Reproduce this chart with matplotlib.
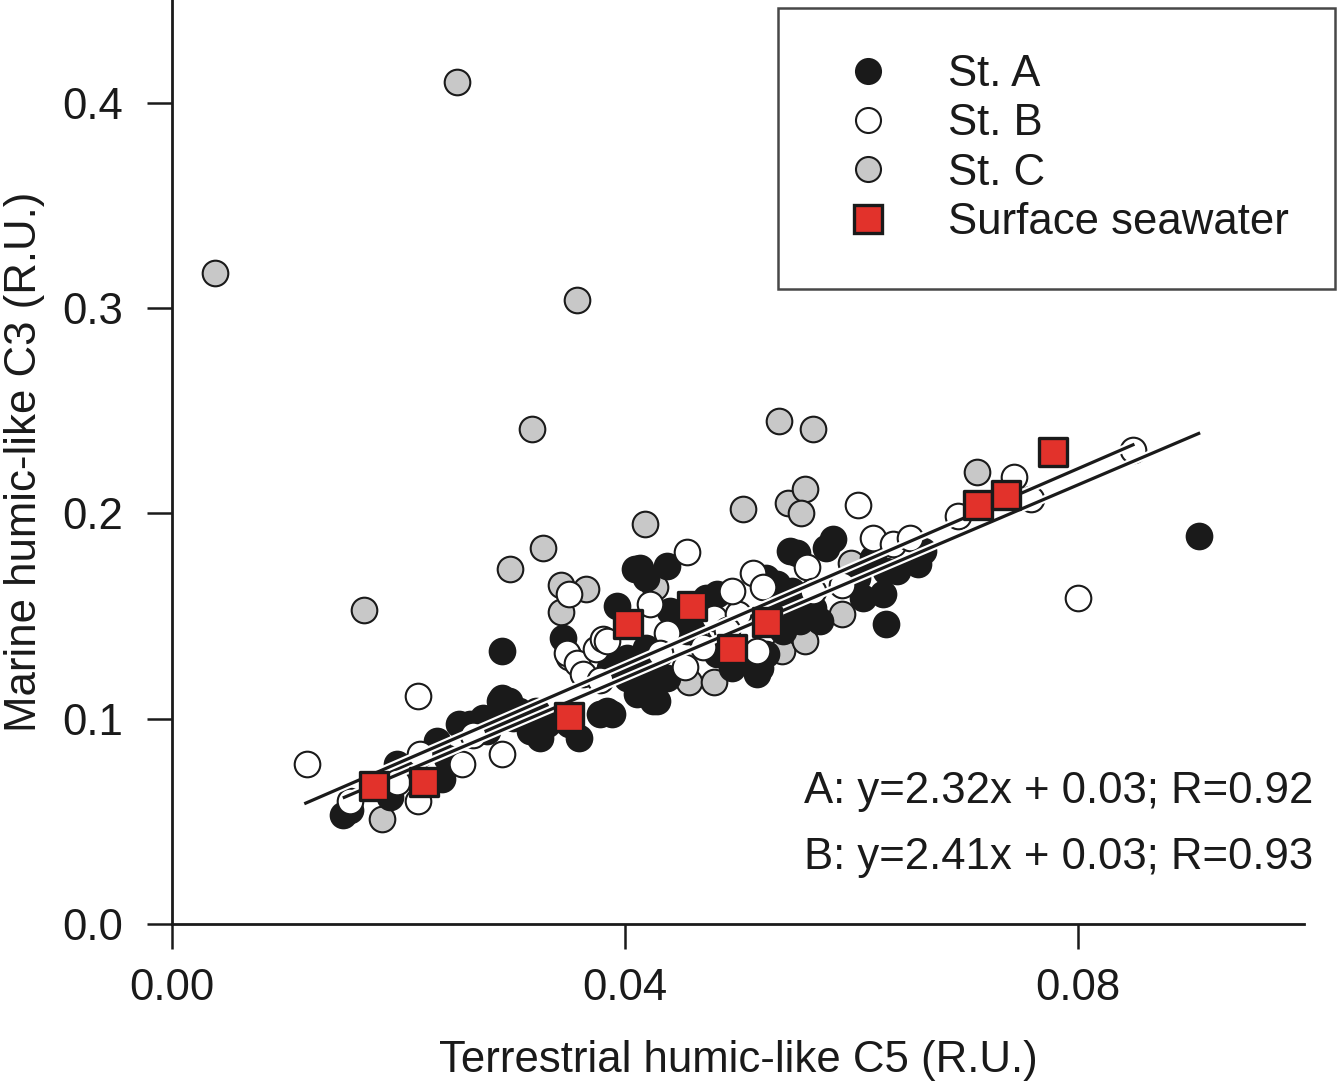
import matplotlib
matplotlib.use("Agg")
import matplotlib.pyplot as plt
import matplotlib.patheffects as pe
from matplotlib.lines import Line2D
import numpy as np

# St. A (black)
st_a_x = [0.0151, 0.0157, 0.0193, 0.0199, 0.0225, 0.0239, 0.0243, 0.0234, 0.0254, 0.0263,
          0.0275, 0.0278, 0.0283, 0.0290, 0.0292, 0.0292, 0.0298, 0.0301, 0.0307, 0.0316,
          0.0322, 0.0325, 0.0331, 0.0351, 0.0360, 0.0345, 0.0378, 0.0384, 0.0389, 0.0393,
          0.0409, 0.0437, 0.0396, 0.0402, 0.0402, 0.0387, 0.0407, 0.0411, 0.0425, 0.0425,
          0.0422, 0.0437, 0.0419, 0.0428, 0.0413, 0.0419, 0.0440, 0.0455, 0.0466, 0.0472,
          0.0481, 0.0481, 0.0495, 0.0513, 0.0517, 0.0519, 0.0525, 0.0540, 0.0552, 0.0531,
          0.0537, 0.0525, 0.0522, 0.0534, 0.0546, 0.0548, 0.0552, 0.0555, 0.0555, 0.0566,
          0.0572, 0.0578, 0.0584, 0.0605, 0.0610, 0.0619, 0.0628, 0.0631, 0.0631, 0.0640,
          0.0659, 0.0663, 0.0907]
st_a_y = [0.0533, 0.0557, 0.0621, 0.0778, 0.0680, 0.0704, 0.0807, 0.0890, 0.0973, 0.0973,
          0.1002, 0.0939, 0.1002, 0.1086, 0.1100, 0.1330, 0.1086, 0.1002, 0.1037, 0.0939,
          0.1037, 0.0905, 0.0973, 0.0973, 0.0905, 0.1394, 0.1022, 0.1037, 0.1022, 0.1550,
          0.1731, 0.1746, 0.1281, 0.1198, 0.1296, 0.1247, 0.1183, 0.1120, 0.1086, 0.1120,
          0.1232, 0.1198, 0.1345, 0.1086, 0.1736, 0.1687, 0.1526, 0.1428, 0.1477, 0.1589,
          0.1609, 0.1315, 0.1247, 0.1281, 0.1218, 0.1247, 0.1315, 0.1428, 0.1511, 0.1462,
          0.1575, 0.1687, 0.1672, 0.1658, 0.1819, 0.1623, 0.1809, 0.1511, 0.1477, 0.1540,
          0.1477, 0.1834, 0.1878, 0.1687, 0.1589, 0.1785, 0.1609, 0.1721, 0.1462, 0.1721,
          0.1756, 0.1819, 0.1892]

# St. B (white)
st_b_x = [0.0119, 0.0217, 0.0157, 0.0199, 0.0217, 0.0219, 0.0256, 0.0266, 0.0292, 0.0351,
          0.0349, 0.0358, 0.0363, 0.0378, 0.0375, 0.0381, 0.0351, 0.0384, 0.0422, 0.0437,
          0.0431, 0.0453, 0.0469, 0.0455, 0.0484, 0.0479, 0.0500, 0.0495, 0.0513, 0.0522,
          0.0490, 0.0517, 0.0561, 0.0566, 0.0592, 0.0606, 0.0619, 0.0637, 0.0652, 0.0694,
          0.0744, 0.0759, 0.0849, 0.0800]
st_b_y = [0.078, 0.111, 0.060, 0.069, 0.060, 0.083, 0.078, 0.092, 0.083, 0.130,
          0.132, 0.127, 0.122, 0.119, 0.134, 0.139, 0.161, 0.138, 0.156, 0.142,
          0.132, 0.125, 0.135, 0.181, 0.144, 0.149, 0.151, 0.162, 0.171, 0.164,
          0.143, 0.133, 0.174, 0.162, 0.165, 0.204, 0.188, 0.185, 0.188, 0.199,
          0.218, 0.207, 0.231, 0.159]

# St. C (grey)
st_c_x = [0.0038, 0.0252, 0.0358, 0.0318, 0.0536, 0.0566, 0.0170, 0.0299, 0.0328, 0.0418,
          0.0504, 0.0544, 0.0559, 0.0556, 0.0711, 0.0344, 0.0366, 0.0344, 0.0427, 0.0457,
          0.0479, 0.0539, 0.0559, 0.0592, 0.0600, 0.0186]
st_c_y = [0.317, 0.410, 0.304, 0.241, 0.245, 0.241, 0.153, 0.173, 0.183, 0.195,
          0.202, 0.205, 0.212, 0.200, 0.220, 0.165, 0.163, 0.152, 0.164, 0.118,
          0.118, 0.133, 0.138, 0.151, 0.176, 0.051]

# surface seawater
sea_x = [0.0179, 0.0223, 0.0351, 0.0403, 0.0459, 0.0495, 0.0526, 0.0712, 0.0737, 0.0778]
sea_y = [0.067, 0.0694, 0.101, 0.146, 0.155, 0.134, 0.147, 0.204, 0.209, 0.230]

# regression lines (slope, intercept, x range) as drawn
fit_slope = {"A": 2.35, "B": 2.39}
fit_icpt = {"A": 0.0259, "B": 0.0306}
fit_xmin = {"A": 0.0151, "B": 0.0117}
fit_xmax = {"A": 0.0908, "B": 0.0850}

eq_labels = ["A: y=2.32x + 0.03; R=0.92", "B: y=2.41x + 0.03; R=0.93"]

x_ticks = [0.00, 0.04, 0.08]
y_ticks = [0.0, 0.1, 0.2, 0.3, 0.4]


def main():
    plt.rcParams["font.family"] = ["Liberation Sans", "DejaVu Sans"]
    fs = 31.5

    fig = plt.figure(figsize=(13.43, 10.91), dpi=100)
    ax = fig.add_axes([0.1279, 0.1531, 0.8433, 0.8466])

    dark = "#1a1a1a"
    circ = dict(s=340, linewidths=1.5, edgecolors=dark)

    ax.scatter(st_c_x, st_c_y, c="#c8c8c8", zorder=2, **circ)
    ax.scatter(st_a_x, st_a_y, c=dark, zorder=3, **circ)
    ax.scatter(st_b_x, st_b_y, c="white", zorder=4, **circ)

    for k in ["A", "B"]:
        xs = np.array([fit_xmin[k], fit_xmax[k]])
        ys = fit_slope[k] * xs + fit_icpt[k]
        ax.plot(xs, ys, color=dark, lw=2.3, zorder=5, solid_capstyle="butt",
                path_effects=[pe.Stroke(linewidth=5.5, foreground="white"), pe.Normal()])

    ax.scatter(sea_x, sea_y, marker="s", s=430, c="#e2322b", edgecolors=dark,
               linewidths=2.4, zorder=6)

    ax.set_xlim(0, 0.1)
    ax.set_ylim(0, 0.45)
    ax.set_xticks(x_ticks)
    ax.set_xticklabels(["%.2f" % v for v in x_ticks])
    ax.set_yticks(y_ticks)
    ax.set_yticklabels(["%.1f" % v for v in y_ticks])

    for s in ["top", "right"]:
        ax.spines[s].set_visible(False)
    for s in ["left", "bottom"]:
        ax.spines[s].set_linewidth(2.0)
        ax.spines[s].set_color(dark)
    ax.tick_params(axis="both", direction="out", length=18, width=1.8,
                   labelsize=fs, colors=dark)
    ax.tick_params(axis="y", pad=17)
    ax.tick_params(axis="x", pad=14)

    ax.set_xlabel("Terrestrial humic-like C5 (R.U.)", fontsize=fs, color=dark)
    ax.set_ylabel("Marine humic-like C3 (R.U.)", fontsize=fs, color=dark)
    ax.xaxis.set_label_coords(0.5, -0.126)
    ax.yaxis.set_label_coords(-0.112, 0.5)

    ax.text(1.008, 0.143, eq_labels[0], transform=ax.transAxes, ha="right",
            va="center", fontsize=fs, color=dark)
    ax.text(1.008, 0.0716, eq_labels[1], transform=ax.transAxes, ha="right",
            va="center", fontsize=fs, color=dark)

    handles = [
        Line2D([], [], ls="none", marker="o", ms=18, mfc=dark, mec=dark, mew=1.5),
        Line2D([], [], ls="none", marker="o", ms=18, mfc="white", mec=dark, mew=1.5),
        Line2D([], [], ls="none", marker="o", ms=18, mfc="#c8c8c8", mec=dark, mew=1.5),
        Line2D([], [], ls="none", marker="s", ms=20, mfc="#e2322b", mec=dark, mew=2.4),
    ]
    labels = ["St. A", "St. B", "St. C", "Surface seawater"]
    leg = fig.legend(handles, labels, loc="upper right",
                     bbox_to_anchor=(1335 / 1343, 1 - 8 / 1091),
                     fontsize=fs, frameon=True, fancybox=False, borderpad=1.05,
                     handlelength=2.0, handletextpad=0.83, labelspacing=0.19,
                     borderaxespad=0)
    leg.get_frame().set_edgecolor(dark)
    leg.get_frame().set_linewidth(1.8)
    for t in leg.get_texts():
        t.set_color(dark)

    fig.savefig("out.png", dpi=100)


if __name__ == '__main__':
    main()
